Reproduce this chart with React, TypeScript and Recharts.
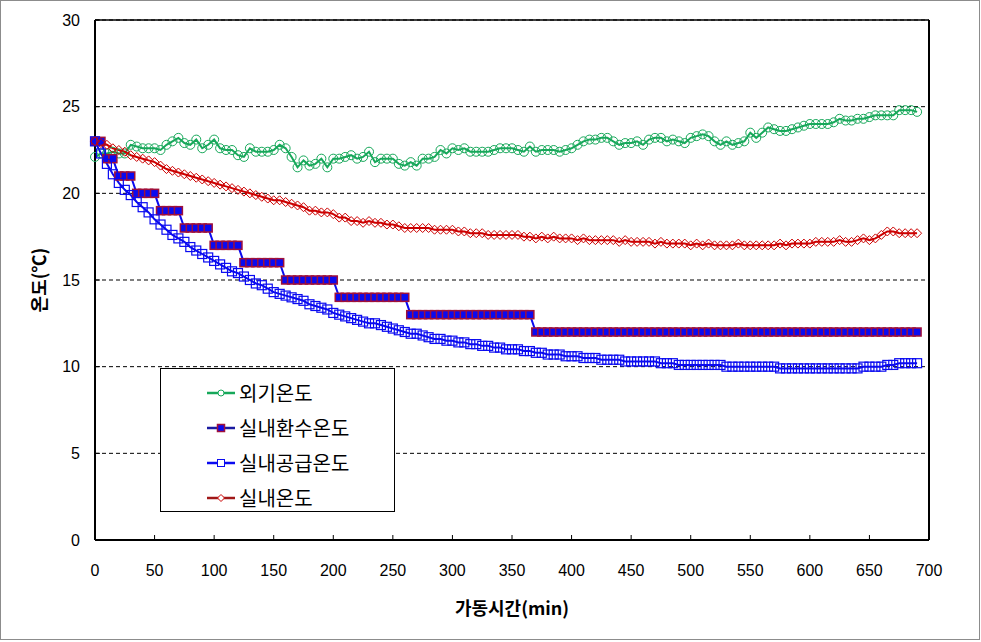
import React from 'react'
import {
  LineChart, Line, XAxis, YAxis, CartesianGrid, Legend, ReferenceLine,
} from 'recharts'

// 가동시간 (min), 5분 간격
const TIME = [
  0, 5, 10, 15, 20, 25, 30, 35, 40, 45,
  50, 55, 60, 65, 70, 75, 80, 85, 90, 95,
  100, 105, 110, 115, 120, 125, 130, 135, 140, 145,
  150, 155, 160, 165, 170, 175, 180, 185, 190, 195,
  200, 205, 210, 215, 220, 225, 230, 235, 240, 245,
  250, 255, 260, 265, 270, 275, 280, 285, 290, 295,
  300, 305, 310, 315, 320, 325, 330, 335, 340, 345,
  350, 355, 360, 365, 370, 375, 380, 385, 390, 395,
  400, 405, 410, 415, 420, 425, 430, 435, 440, 445,
  450, 455, 460, 465, 470, 475, 480, 485, 490, 495,
  500, 505, 510, 515, 520, 525, 530, 535, 540, 545,
  550, 555, 560, 565, 570, 575, 580, 585, 590, 595,
  600, 605, 610, 615, 620, 625, 630, 635, 640, 645,
  650, 655, 660, 665, 670, 675, 680, 685, 690,
]

// 외기온도
const OUTDOOR = [
  22.1, 22.3, 22.3, 22.4, 22.3, 22.3, 22.8, 22.7, 22.6, 22.6,
  22.6, 22.5, 22.8, 23.0, 23.2, 22.9, 22.8, 23.1, 22.6, 22.8,
  23.1, 22.6, 22.5, 22.5, 22.2, 22.1, 22.6, 22.4, 22.4, 22.4,
  22.5, 22.8, 22.6, 22.1, 21.5, 21.9, 21.6, 21.7, 22.0, 21.5,
  22.0, 22.0, 22.1, 22.2, 22.0, 22.1, 22.4, 21.8, 22.0, 22.0,
  22.0, 21.7, 21.6, 21.8, 21.6, 22.0, 22.0, 22.1, 22.5, 22.3,
  22.6, 22.5, 22.6, 22.4, 22.4, 22.4, 22.4, 22.5, 22.6, 22.6,
  22.6, 22.5, 22.4, 22.7, 22.4, 22.5, 22.5, 22.5, 22.4, 22.5,
  22.6, 22.8, 23.0, 23.1, 23.1, 23.2, 23.2, 23.0, 22.8, 22.9,
  22.9, 23.0, 22.8, 23.1, 23.2, 23.2, 23.0, 23.1, 23.0, 22.9,
  23.2, 23.3, 23.4, 23.3, 23.0, 22.8, 23.0, 22.8, 22.9, 23.0,
  23.5, 23.2, 23.5, 23.8, 23.7, 23.6, 23.6, 23.7, 23.8, 23.9,
  24.0, 24.0, 24.0, 24.0, 24.1, 24.3, 24.2, 24.2, 24.3, 24.3,
  24.4, 24.5, 24.5, 24.5, 24.5, 24.8, 24.8, 24.8, 24.7,
]

// 실내환수온도
const RETURN_T = [
  23, 23, 22, 22, 21, 21, 21, 20, 20, 20,
  20, 19, 19, 19, 19, 18, 18, 18, 18, 18,
  17, 17, 17, 17, 17, 16, 16, 16, 16, 16,
  16, 16, 15, 15, 15, 15, 15, 15, 15, 15,
  15, 14, 14, 14, 14, 14, 14, 14, 14, 14,
  14, 14, 14, 13, 13, 13, 13, 13, 13, 13,
  13, 13, 13, 13, 13, 13, 13, 13, 13, 13,
  13, 13, 13, 13, 12, 12, 12, 12, 12, 12,
  12, 12, 12, 12, 12, 12, 12, 12, 12, 12,
  12, 12, 12, 12, 12, 12, 12, 12, 12, 12,
  12, 12, 12, 12, 12, 12, 12, 12, 12, 12,
  12, 12, 12, 12, 12, 12, 12, 12, 12, 12,
  12, 12, 12, 12, 12, 12, 12, 12, 12, 12,
  12, 12, 12, 12, 12, 12, 12, 12, 12,
]

// 실내공급온도
const SUPPLY = [
  23.0, 22.3, 21.7, 21.1, 20.6, 20.2, 19.9, 19.5, 19.2, 18.9,
  18.5, 18.2, 17.9, 17.6, 17.4, 17.2, 16.9, 16.7, 16.5, 16.3,
  16.1, 15.9, 15.7, 15.5, 15.4, 15.2, 15.0, 14.8, 14.7, 14.5,
  14.3, 14.2, 14.1, 14.0, 13.9, 13.8, 13.6, 13.5, 13.4, 13.3,
  13.1, 13.0, 12.9, 12.8, 12.7, 12.6, 12.5, 12.5, 12.4, 12.3,
  12.2, 12.1, 12.0, 11.9, 11.9, 11.8, 11.7, 11.6, 11.6, 11.5,
  11.5, 11.4, 11.4, 11.3, 11.3, 11.2, 11.2, 11.1, 11.1, 11.0,
  11.0, 11.0, 10.9, 10.9, 10.8, 10.8, 10.7, 10.7, 10.7, 10.6,
  10.6, 10.6, 10.5, 10.5, 10.5, 10.4, 10.4, 10.4, 10.4, 10.3,
  10.3, 10.3, 10.3, 10.3, 10.3, 10.2, 10.2, 10.2, 10.1, 10.1,
  10.1, 10.1, 10.1, 10.1, 10.1, 10.1, 10.0, 10.0, 10.0, 10.0,
  10.0, 10.0, 10.0, 10.0, 10.0, 9.9, 9.9, 9.9, 9.9, 9.9,
  9.9, 9.9, 9.9, 9.9, 9.9, 9.9, 9.9, 9.9, 9.9, 10.0,
  10.0, 10.0, 10.0, 10.1, 10.1, 10.2, 10.2, 10.2, 10.2,
]

// 실내온도
const ROOM = [
  23.0, 22.9, 22.8, 22.6, 22.5, 22.4, 22.2, 22.1, 22.0, 21.9,
  21.8, 21.6, 21.4, 21.3, 21.2, 21.1, 21.0, 20.9, 20.8, 20.7,
  20.6, 20.5, 20.4, 20.3, 20.2, 20.1, 20.0, 19.9, 19.8, 19.7,
  19.6, 19.6, 19.5, 19.4, 19.3, 19.2, 19.0, 19.0, 18.9, 18.9,
  18.8, 18.6, 18.6, 18.4, 18.4, 18.3, 18.4, 18.3, 18.3, 18.2,
  18.2, 18.1, 18.0, 18.0, 18.0, 18.0, 18.0, 17.9, 17.9, 17.9,
  17.9, 17.8, 17.8, 17.7, 17.7, 17.7, 17.6, 17.6, 17.6, 17.6,
  17.6, 17.6, 17.5, 17.5, 17.4, 17.5, 17.4, 17.5, 17.4, 17.4,
  17.4, 17.3, 17.4, 17.3, 17.3, 17.3, 17.3, 17.3, 17.2, 17.3,
  17.2, 17.2, 17.2, 17.2, 17.1, 17.2, 17.1, 17.1, 17.1, 17.1,
  17.0, 17.1, 17.0, 17.1, 17.0, 17.0, 17.0, 17.0, 17.1, 17.0,
  17.0, 17.0, 17.0, 17.0, 17.0, 17.1, 17.0, 17.1, 17.1, 17.1,
  17.1, 17.2, 17.2, 17.2, 17.2, 17.3, 17.2, 17.2, 17.3, 17.4,
  17.3, 17.4, 17.6, 17.8, 17.8, 17.7, 17.7, 17.7, 17.7,
]

const X_TICKS = [0, 50, 100, 150, 200, 250, 300, 350, 400, 450, 500, 550, 600, 650, 700]
const Y_TICKS = [0, 5, 10, 15, 20, 25, 30]

const GREEN = '#17a85a'
const BLUE = '#0a0af0'
const RED = '#cc0000'
const MAROON = '#a0103a'

const data = TIME.map((t, i) => ({
  t,
  outdoor: OUTDOOR[i],
  ret: RETURN_T[i],
  supply: SUPPLY[i],
  room: ROOM[i],
}))

const NUM_FONT = '"Liberation Sans", Arial, sans-serif'
const KR_FONT = '"Noto Sans CJK KR", "Noto Sans", sans-serif'

function circleDot(p: any) {
  if (p.cx == null || p.cy == null) return <g key={`c${p.index}`} />
  return <circle key={`c${p.index}`} cx={p.cx} cy={p.cy} r={4.5} fill="none" stroke={GREEN} strokeWidth={1} />
}

function filledSquareDot(p: any) {
  if (p.cx == null || p.cy == null) return <g key={`f${p.index}`} />
  return (
    <rect key={`f${p.index}`} x={p.cx - 4} y={p.cy - 4} width={8} height={8}
      fill={BLUE} stroke={MAROON} strokeWidth={1.5} />
  )
}

function openSquareDot(p: any) {
  if (p.cx == null || p.cy == null) return <g key={`s${p.index}`} />
  return (
    <rect key={`s${p.index}`} x={p.cx - 4.5} y={p.cy - 4.5} width={9} height={9}
      fill="none" stroke={BLUE} strokeWidth={1.2} />
  )
}

function diamondDot(p: any) {
  if (p.cx == null || p.cy == null) return <g key={`d${p.index}`} />
  const r = 4.5
  return (
    <path key={`d${p.index}`}
      d={`M${p.cx},${p.cy - r}L${p.cx + r},${p.cy}L${p.cx},${p.cy + r}L${p.cx - r},${p.cy}Z`}
      fill="none" stroke={RED} strokeWidth={1} />
  )
}

const LEGEND_ITEMS = [
  { label: '외기온도', color: GREEN, marker: 'circle' },
  { label: '실내환수온도', color: '#1a1aa0', marker: 'filled' },
  { label: '실내공급온도', color: BLUE, marker: 'square' },
  { label: '실내온도', color: '#a01818', marker: 'diamond' },
]

function LegendIcon({ color, marker }: { color: string; marker: string }) {
  return (
    <svg width={28} height={12} style={{ display: 'block' }}>
      <line x1={0} y1={6} x2={28} y2={6} stroke={color} strokeWidth={2.5} />
      {marker === 'circle' && <circle cx={14} cy={6} r={3} fill="#fff" stroke={GREEN} strokeWidth={1} />}
      {marker === 'filled' && <rect x={10.5} y={2.5} width={7} height={7} fill={BLUE} stroke={MAROON} strokeWidth={1.5} />}
      {marker === 'square' && <rect x={10.5} y={2.5} width={7} height={7} fill="#fff" stroke={BLUE} strokeWidth={1} />}
      {marker === 'diamond' && <path d="M14,2.5L17.5,6L14,9.5L10.5,6Z" fill="#fff" stroke={RED} strokeWidth={1} />}
    </svg>
  )
}

function renderLegend() {
  return (
    <div style={{
      position: 'relative', width: 235, height: 144, boxSizing: 'border-box',
      border: '1px solid #000', background: '#fff',
    }}>
      {LEGEND_ITEMS.map((it, i) => (
        <div key={it.label} style={{
          position: 'absolute', left: 46, top: 10 + i * 35, height: 28,
          display: 'flex', alignItems: 'center',
        }}>
          <LegendIcon color={it.color} marker={it.marker} />
          <span style={{ marginLeft: 4, fontFamily: KR_FONT, fontSize: 20, color: '#000', lineHeight: '28px' }}>
            {it.label}
          </span>
        </div>
      ))}
    </div>
  )
}

export default function App() {
  return (
    <div style={{ position: 'absolute', left: 0, top: 0, width: 981, height: 642, background: '#fff' }}>
      <LineChart
        width={981}
        height={642}
        data={data}
        margin={{ top: 20, right: 52, bottom: 22, left: 0 }}
        style={{ fontFamily: NUM_FONT }}
      >
        <CartesianGrid vertical={false} stroke="#000" strokeDasharray="4 3" />
        <XAxis
          dataKey="t"
          type="number"
          domain={[0, 700]}
          ticks={X_TICKS}
          height={80}
          axisLine={{ stroke: '#000', strokeWidth: 2 }}
          tickLine={{ stroke: '#000' }}
          tickSize={-5}
          tickMargin={30}
          tick={{ fontSize: 16, fill: '#000', fontFamily: NUM_FONT }}
          interval={0}
          label={{
            value: '가동시간(min)', position: 'insideBottom', offset: 5,
            style: { fontFamily: KR_FONT, fontSize: 18, fontWeight: 700, fill: '#000' },
          }}
        />
        <YAxis
          domain={[0, 30]}
          ticks={Y_TICKS}
          width={95}
          axisLine={{ stroke: '#000', strokeWidth: 2 }}
          tickLine={{ stroke: '#000' }}
          tickSize={-5}
          tickMargin={20}
          tick={{ fontSize: 16, fill: '#000', fontFamily: NUM_FONT }}
          interval={0}
          label={{
            content: () => (
              <text x={38} y={280} transform="rotate(-90 38 280)" textAnchor="middle"
                dominantBaseline="central"
                style={{ fontFamily: KR_FONT, fontSize: 18, fontWeight: 700, fill: '#000' }}>
                온도(℃)
              </text>
            ),
          }}
        />
        <ReferenceLine y={30} stroke="#000" strokeWidth={1.5} />
        <ReferenceLine x={700} stroke="#000" strokeWidth={2} />
        <Legend
          content={renderLegend}
          layout="vertical"
          align="center"
          verticalAlign="middle"
          wrapperStyle={{ left: 160, top: 368, width: 235, height: 144 }}
        />
        <Line dataKey="outdoor" name="외기온도" stroke={GREEN} strokeWidth={2}
          dot={circleDot} isAnimationActive={false} />
        <Line dataKey="ret" name="실내환수온도" stroke={BLUE} strokeWidth={2}
          dot={filledSquareDot} isAnimationActive={false} />
        <Line dataKey="supply" name="실내공급온도" stroke={BLUE} strokeWidth={2}
          dot={openSquareDot} isAnimationActive={false} />
        <Line dataKey="room" name="실내온도" stroke={RED} strokeWidth={2}
          dot={diamondDot} isAnimationActive={false} />
      </LineChart>
      <div style={{
        position: 'absolute', left: 0, top: 0, width: 980, height: 640,
        boxSizing: 'border-box', border: '1px solid #8c8c8c', pointerEvents: 'none',
      }} />
    </div>
  )
}
